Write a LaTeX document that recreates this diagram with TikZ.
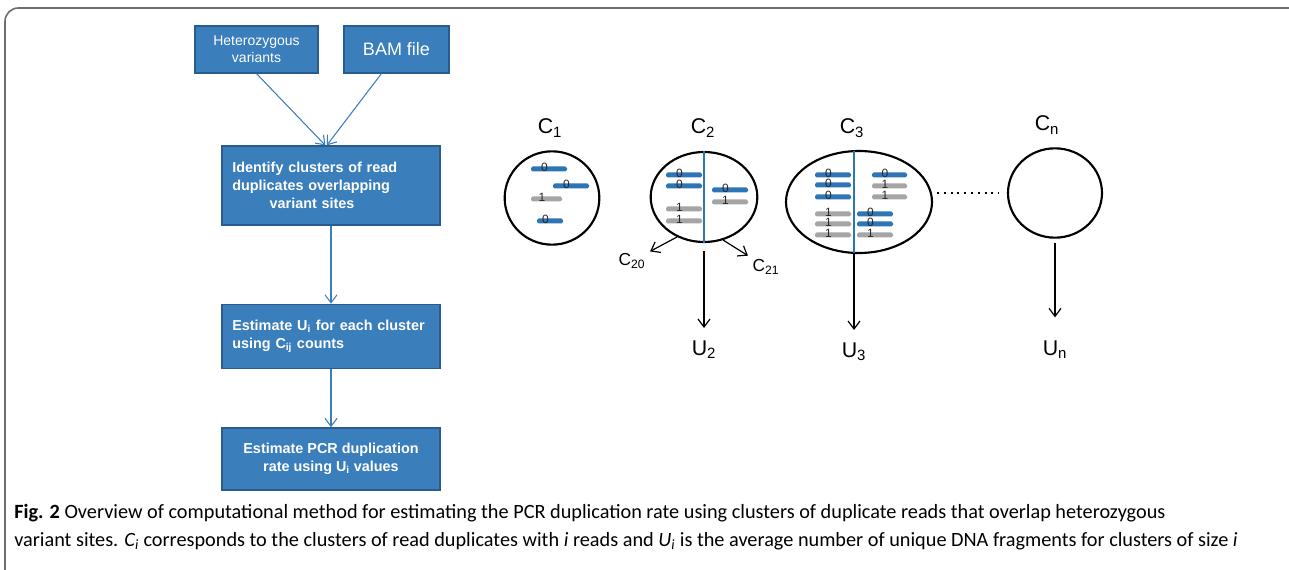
\documentclass[tikz,border=0pt]{standalone}
\usepackage{fontspec}
\setmainfont{Liberation Sans}
\newfontfamily\capfont{Carlito}
\usetikzlibrary{arrows.meta,shapes.geometric}

\definecolor{boxblue}{RGB}{58,126,188}
\definecolor{boxedge}{RGB}{40,92,142}
\definecolor{readblue}{RGB}{46,117,182}
\definecolor{readgray}{RGB}{165,165,165}
\definecolor{framegray}{RGB}{110,110,110}

\tikzset{
  stepbox/.style={rectangle,fill=boxblue,draw=boxedge,line width=1.2pt,text=white,inner sep=0pt},
  flow/.style={->,draw=boxblue,line width=0.8pt},
  cluster/.style={ellipse,draw=black,line width=1.6pt,inner sep=0pt},
  count/.style={->,line width=0.9pt},
  clabel/.style={font=\fontsize{16}{16}\selectfont},
  digit/.style={font=\fontsize{9}{9}\selectfont,text=black!85,inner sep=0pt},
}

\begin{document}
\begin{tikzpicture}[x=0.75pt,y=-0.75pt,>={Straight Barb[length=6pt,width=9pt]}]
\useasboundingbox (0,0) rectangle (1289,570);
\draw[framegray,line width=1.2pt,rounded corners=10] (5,570) -- (5,8) -- (1289,8);

% flow chart on the left
\node[stepbox,minimum width=92pt,minimum height=35pt,align=center,font=\fontsize{10.5}{12.5}\selectfont]
  (het) at (256.5,49.5) {Heterozygous\\variants};
\node[stepbox,minimum width=79pt,minimum height=35pt,font=\fontsize{13.5}{15}\selectfont]
  (bam) at (396.5,49.5) {BAM file};
\node[stepbox,minimum width=163.5pt,minimum height=59pt,text width=148pt,align=left,font=\bfseries\fontsize{10.8}{13.5}\selectfont]
  (ident) at (331,185.5) {Identify clusters of read\\duplicates overlapping\\\hspace*{28pt}variant sites};
\node[stepbox,minimum width=163.5pt,minimum height=48pt,text width=148pt,align=left,font=\bfseries\fontsize{10.8}{13.5}\selectfont]
  (estu) at (331,336.5) {Estimate U\textsubscript{i} for each cluster\\using C\textsubscript{ij} counts};
\node[stepbox,minimum width=163.5pt,minimum height=46.5pt,align=center,font=\bfseries\fontsize{10.8}{13.5}\selectfont]
  (estpcr) at (331,459) {Estimate PCR duplication\\rate using U\textsubscript{i} values};

\draw[flow] (het.south) -- (ident.98);
\draw[flow] (bam.238) -- (ident.96);
\draw[flow] (ident.south) -- (estu.north);
\draw[flow] (estu.south) -- (estpcr.north);

% clusters
\node[cluster,minimum width=71pt,minimum height=70pt] (c1) at (552,198) {};
\node[cluster,minimum width=80pt,minimum height=67.5pt] (c2) at (704,197) {};
\node[cluster,minimum width=109.5pt,minimum height=76.5pt] (c3) at (859,202) {};
\node[cluster,minimum width=70.5pt,minimum height=67pt] (cn) at (1055,193) {};

\node[clabel] (lc1) at (550,128) {C\textsubscript{1}};
\node[clabel] (lc2) at (703,128) {C\textsubscript{2}};
\node[clabel] (lc3) at (852,128) {C\textsubscript{3}};
\node[clabel] (lcn) at (1047,125) {C\textsubscript{n}};

\draw[readblue,line width=1pt] (c2.north) -- (c2.south);
\draw[readblue,line width=1pt] (854,151) -- (854,253);

% reads
\foreach \xa/\xb/\yy/\cc/\dd [count=\k] in {
  531/567/169/readblue/0, 553/589/186/readblue/0, 531/562/199/readgray/1, 537/563/221/readblue/0,
  666/702/175/readblue/0, 666/702/186/readblue/0, 666/702/209/readgray/1, 666/702/221/readgray/1,
  712/748/190/readblue/0, 712/748/202/readgray/1,
  815/851/175/readblue/0, 815/851/185/readblue/0, 815/851/197/readblue/0,
  815/851/214/readgray/1, 815/851/224/readgray/1, 815/851/235/readgray/1,
  872/907/175/readblue/0, 872/907/186/readgray/1, 872/907/197/readgray/1,
  857/893/214/readblue/0, 857/893/224/readblue/0, 857/893/235/readgray/1}
{
  \fill[\cc,rounded corners=1.2pt] (\xa,\yy-2.5) rectangle (\xb,\yy+2.5);
  \node[digit] (r\k) at ({(\xa+\xb)/2-4.5},\yy-1.5) {\dd};
}

\draw[line width=1.5pt,dash pattern=on 1.5pt off 3.6pt,shorten <=3pt,shorten >=6pt] (c3.east |- cn.west) -- (cn.west);

% split of C2
\node[font=\fontsize{13}{13}\selectfont] (c20) at (632,261) {C\textsubscript{20}};
\node[font=\fontsize{13}{13}\selectfont] (c21) at (766,267) {C\textsubscript{21}};
\draw[count] (c2.236) -- (c20);
\draw[count] (c2.294) -- (c21);

% unique fragments
\node[clabel,anchor=north] (u2) at (704,336) {U\textsubscript{2}};
\node[clabel,anchor=north] (u3) at (854,338) {U\textsubscript{3}};
\node[clabel,anchor=north] (un) at (1055,336) {U\textsubscript{n}};
\draw[count,shorten <=6pt,shorten >=6pt] (c2.south) -- (u2.north);
\draw[count,shorten <=1pt,shorten >=6pt] (854,253) -- (u3.north);
\draw[count,shorten <=3pt,shorten >=14pt] (cn.south) -- (un.north);

% caption
\node[anchor=west,inner sep=0pt,font=\capfont\fontsize{15.2}{18}\selectfont] (cap1) at (14,513)
  {\textbf{Fig. 2} Overview of computational method for estimating the PCR duplication rate using clusters of duplicate reads that overlap heterozygous};
\node[anchor=west,inner sep=0pt,font=\capfont\fontsize{15.2}{18}\selectfont] (cap2) at (14,541)
  {variant sites. \textit{C\textsubscript{i}} corresponds to the clusters of read duplicates with \textit{i} reads and \textit{U\textsubscript{i}} is the average number of unique DNA fragments for clusters of size \textit{i}};
\end{tikzpicture}
\end{document}
